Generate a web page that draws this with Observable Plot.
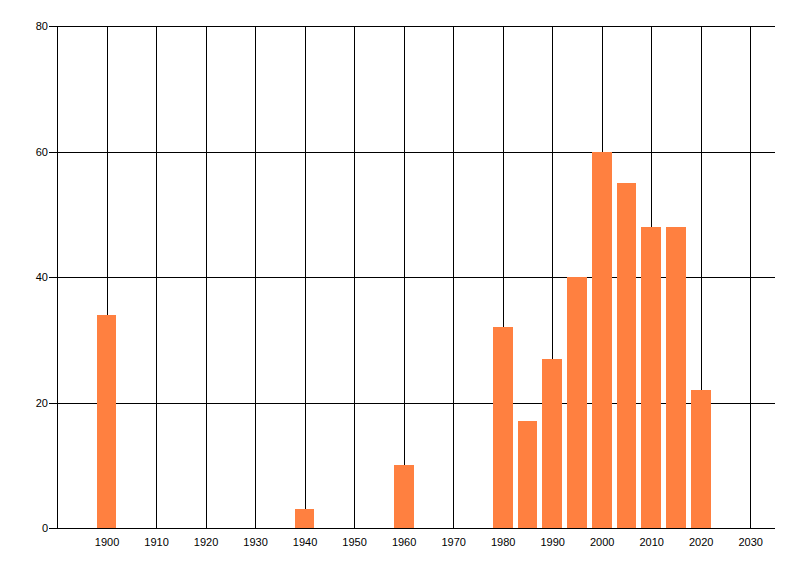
<!DOCTYPE html>
<html>
<head>
<meta charset="utf-8">
<script src="https://cdn.jsdelivr.net/npm/d3@7"></script>
<script src="https://cdn.jsdelivr.net/npm/@observablehq/plot@0.6"></script>
<style>
  html, body { margin: 0; padding: 0; background: #fff; }
  #chart svg { display: block; }
  #chart svg line, #chart svg path, #chart svg rect { shape-rendering: crispEdges; }
</style>
</head>
<body>
<div id="chart"></div>
<script>
const years = [1900, 1940, 1960, 1980, 1985, 1990, 1995, 2000, 2005, 2010, 2015, 2020];
const values = [34, 3, 10, 32, 17, 27, 40, 60, 55, 48, 48, 22];
const xTicks = [1900, 1910, 1920, 1930, 1940, 1950, 1960, 1970, 1980, 1990, 2000, 2010, 2020, 2030];
const yTicks = [0, 20, 40, 60, 80];
const xDomain = [1890, 2035];
const yDomain = [0, 80];
const barHalfWidth = 2;

const data = years.map((year, i) => ({year, value: values[i]}));

const chart = Plot.plot({
  width: 800,
  height: 576,
  marginLeft: 57,
  marginRight: 25,
  marginTop: 26,
  marginBottom: 48,
  style: {fontFamily: "'Liberation Sans', Arial, sans-serif", fontSize: "11px", color: "#000", background: "#fff"},
  x: {type: "linear", domain: xDomain},
  y: {domain: yDomain},
  marks: [
    Plot.ruleX(xTicks, {stroke: "#000", strokeWidth: 1, strokeOpacity: 1}),
    Plot.ruleY(yTicks, {stroke: "#000", strokeWidth: 1, strokeOpacity: 1}),
    Plot.ruleX([xDomain[0]], {stroke: "#000", strokeWidth: 1}),
    Plot.rectY(data, {x1: d => d.year - barHalfWidth, x2: d => d.year + barHalfWidth, y: "value", fill: "#ff8040"}),
    Plot.axisX({ticks: xTicks, tickSize: 0, tickPadding: 10, tickFormat: d => String(d), label: null}),
    Plot.axisY({ticks: yTicks, tickSize: 8, tickPadding: 1.5, strokeOpacity: 1, label: null})
  ]
});
document.getElementById("chart").appendChild(chart);
</script>
</body>
</html>
